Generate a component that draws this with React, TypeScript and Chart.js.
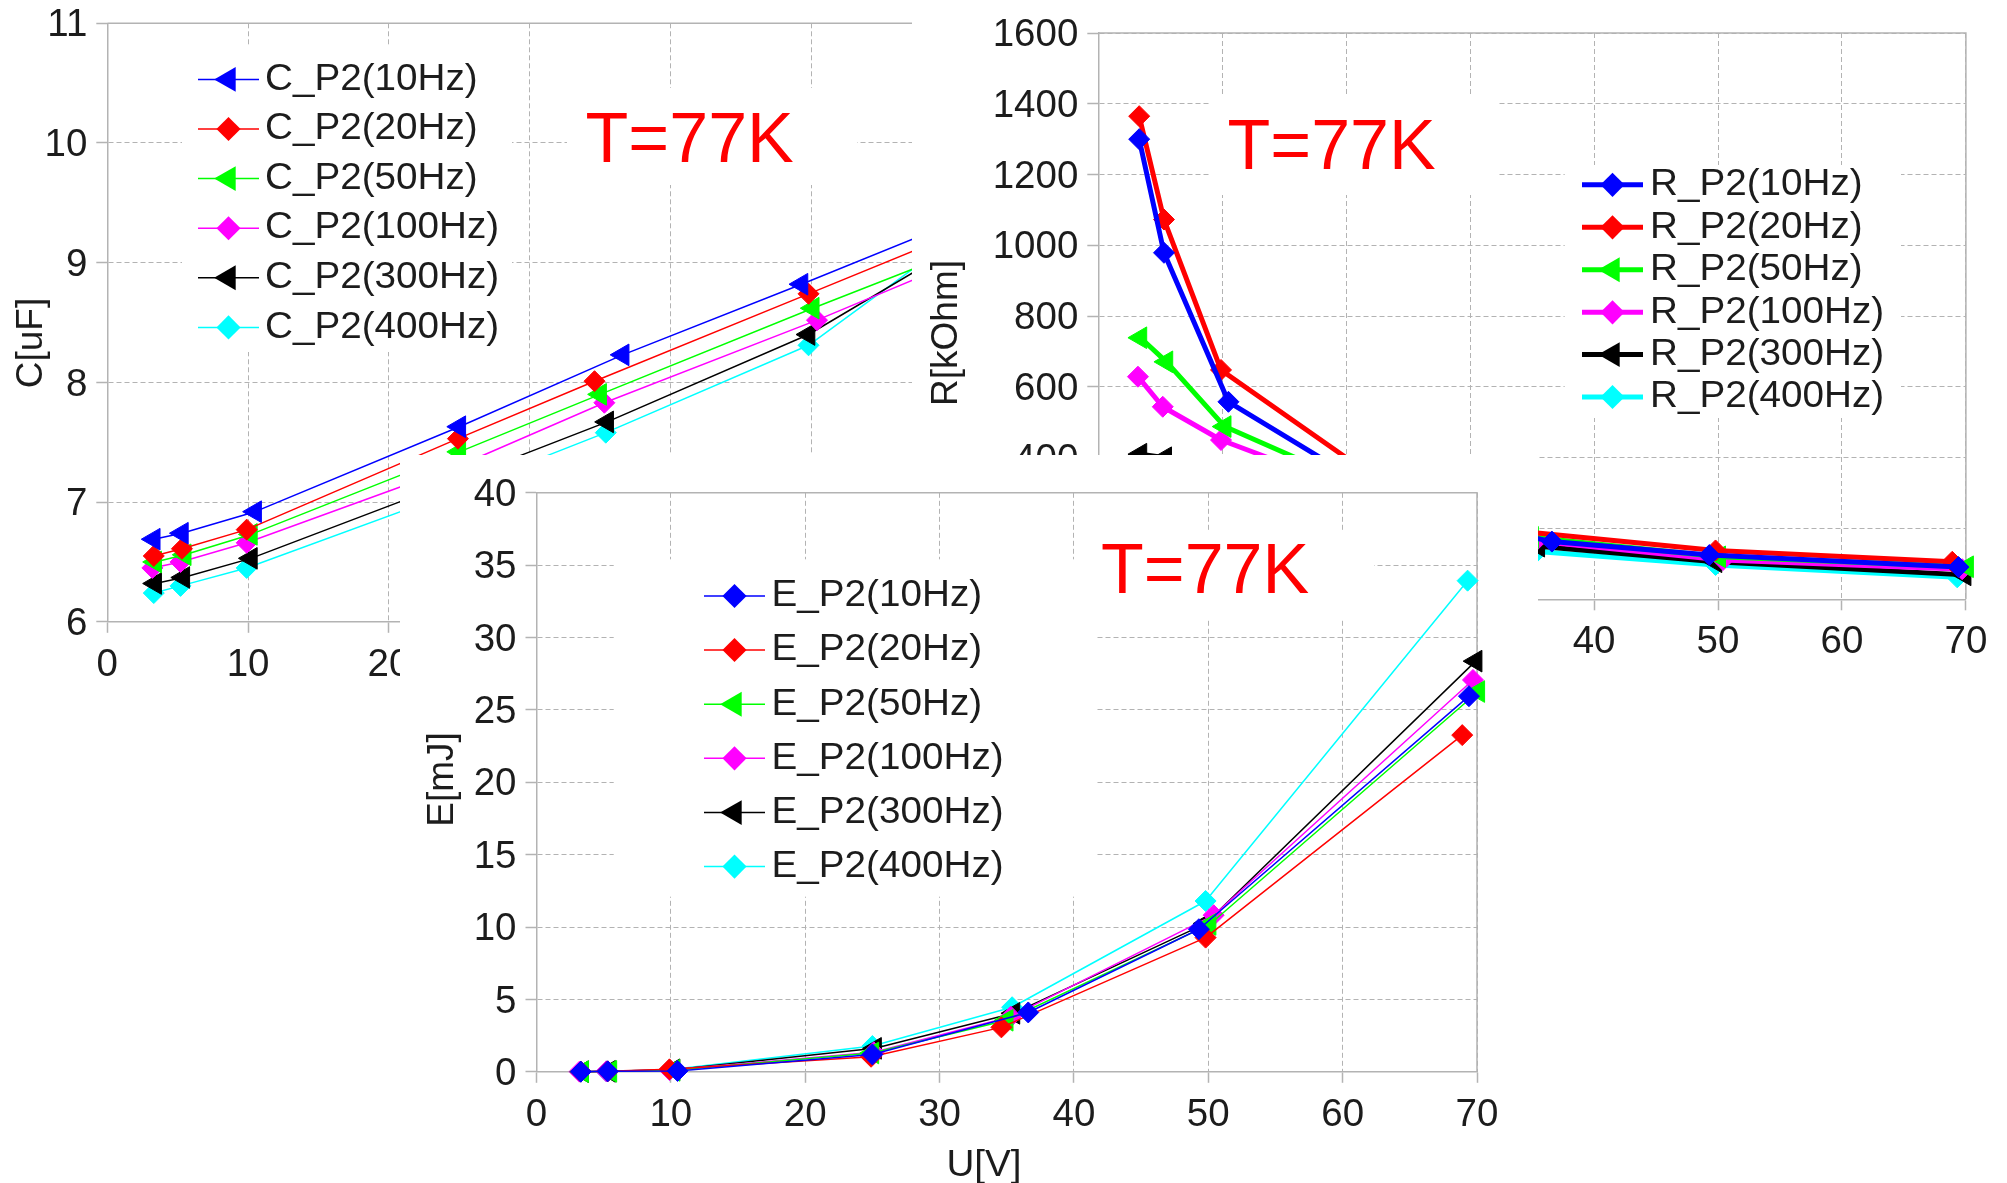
import React, { useEffect, useRef } from 'react';
import { Chart, registerables } from 'chart.js';

Chart.register(...registerables);

const FONT = '"Liberation Sans", Arial, Helvetica, sans-serif';
const GRID = '#b3b3b3';
const TEXT = '#1c1c1c';
const TITLE = 'T=77K';
const STRETCH = 1.045;
const LEGEND_MARKER_SCALE = 1.15;

const FREQS = ['10Hz', '20Hz', '50Hz', '100Hz', '300Hz', '400Hz'];
const COLORS = ['#0000ff', '#ff0000', '#00ff00', '#ff00ff', '#000000', '#00ffff'];

// Voltage U[V] of every measurement, per frequency
const U_10 = [3.3, 5.3, 10.5, 25.0, 36.6, 49.3, 69.4];
const U_20 = [3.3, 5.3, 9.9, 24.9, 34.6, 49.8, 68.9];
const U_50 = [3.4, 5.5, 10.2, 25.0, 35.0, 50.1, 70.1];
const U_100 = [3.2, 5.2, 9.9, 25.1, 35.3, 50.4, 69.7];
const U_300 = [3.4, 5.4, 10.2, 25.2, 35.5, 49.8, 69.9];
const U_400 = [3.3, 5.2, 9.9, 25.0, 35.4, 49.8, 69.3];

// Capacitance C[uF]
const C_10 = [6.69, 6.74, 6.92, 7.63, 8.23, 8.82, 9.78];
const C_20 = [6.55, 6.61, 6.77, 7.53, 8.01, 8.74, 9.66];
const C_50 = [6.5, 6.56, 6.73, 7.42, 7.9, 8.62, 9.54];
const C_100 = [6.45, 6.5, 6.66, 7.31, 7.83, 8.52, 9.47];
const C_300 = [6.32, 6.37, 6.53, 7.2, 7.67, 8.4, 9.8];
const C_400 = [6.24, 6.3, 6.45, 7.1, 7.58, 8.31, 9.99];

// Resistance R[kOhm]
const R_10 = [1300, 979, 558, 250, 163, 125, 91];
const R_20 = [1365, 1073, 648, 280, 190, 138, 106];
const R_50 = [739, 671, 488, 260, 175, 120, 92];
const R_100 = [629, 544, 450, 250, 165, 111, 85];
const R_300 = [410, 400, 330, 220, 150, 106, 69];
const R_400 = [385, 370, 300, 205, 135, 97, 62];

// Energy E[mJ]
const E_10 = [0.01, 0.03, 0.06, 1.2, 4.1, 9.85, 25.95];
const E_20 = [0.01, 0.03, 0.17, 1.04, 3.07, 9.27, 23.26];
const E_50 = [0.01, 0.03, 0.1, 1.3, 3.56, 10.18, 26.27];
const E_100 = [0.01, 0.03, 0.12, 1.35, 3.81, 10.82, 27.07];
const E_300 = [0.01, 0.03, 0.14, 1.62, 4.04, 10.24, 28.37];
const E_400 = [0.01, 0.03, 0.14, 1.78, 4.46, 11.8, 33.93];

// Tick labels
const U_TICKS = [0, 10, 20, 30, 40, 50, 60, 70];
const C_TICKS = [6, 7, 8, 9, 10, 11];
const R_TICKS = [0, 200, 400, 600, 800, 1000, 1200, 1400, 1600];
const E_TICKS = [0, 5, 10, 15, 20, 25, 30, 35, 40];

const C_MARKERS = ['triangle', 'rectRot', 'triangle', 'rectRot', 'triangle', 'rectRot'];
const RE_MARKERS = ['rectRot', 'rectRot', 'triangle', 'rectRot', 'triangle', 'rectRot'];

const U_SERIES = [U_10, U_20, U_50, U_100, U_300, U_400];
const C_SERIES = [C_10, C_20, C_50, C_100, C_300, C_400];
const R_SERIES = [R_10, R_20, R_50, R_100, R_300, R_400];
const E_SERIES = [E_10, E_20, E_50, E_100, E_300, E_400];

type Box = { x: number; y: number; w: number; h: number };
type Panel = {
  key: string;
  left: number; top: number; W: number; H: number;
  area: { l: number; r: number; t: number; b: number };
  yTicks: number[];
  prefix: string;
  markers: string[];
  ys: number[][];
  lineWidth: number;
  legendLineWidth: number;
  legendBox: Box;
  legendRows: number[];
  legendLine: [number, number];
  legendText: number;
  titleBox: Box;
  titleX: number;
  titleBase: number;
  yTitle: string; yTitleX: number; yTitleY: number;
  xTitle?: string; xTitleX?: number; xTitleBase?: number;
};

const PANELS: Panel[] = [
  {
    key: 'C', left: 0, top: 0, W: 1110, H: 700,
    area: { l: 107.3, r: 1093, t: 23.3, b: 621.8 },
    yTicks: C_TICKS, prefix: 'C', markers: C_MARKERS, ys: C_SERIES,
    lineWidth: 1.5, legendLineWidth: 1.5,
    legendBox: { x: 182, y: 45, w: 330, h: 307 },
    legendRows: [79.4, 129, 178.6, 228.2, 277.8, 327.4],
    legendLine: [198, 259], legendText: 265,
    titleBox: { x: 567, y: 88, w: 290, h: 97 }, titleX: 585.6, titleBase: 161.7,
    yTitle: 'C[uF]', yTitleX: 42.1, yTitleY: 343,
  },
  {
    key: 'R', left: 912, top: 0, W: 1095, H: 700,
    area: { l: 186.3, r: 1053.9, t: 33, b: 599.3 },
    yTicks: R_TICKS, prefix: 'R', markers: RE_MARKERS, ys: R_SERIES,
    lineWidth: 5, legendLineWidth: 5,
    legendBox: { x: 652.7, y: 165, w: 336.3, h: 253 },
    legendRows: [184.8, 227.3, 269.8, 312.3, 354.6, 397],
    legendLine: [670, 731], legendText: 738,
    titleBox: { x: 299, y: 95, w: 288, h: 100 }, titleX: 315.5, titleBase: 168.5,
    yTitle: 'R[kOhm]', yTitleX: 45.2, yTitleY: 333,
  },
  {
    key: 'E', left: 400, top: 455, W: 1138, H: 728,
    area: { l: 136.5, r: 1077, t: 37.8, b: 616.8 },
    yTicks: E_TICKS, prefix: 'E', markers: RE_MARKERS, ys: E_SERIES,
    lineWidth: 1.5, legendLineWidth: 1.5,
    legendBox: { x: 213.7, y: 104.3, w: 482.3, h: 337.4 },
    legendRows: [141, 195, 249.3, 303.3, 357.6, 411.6],
    legendLine: [304, 365], legendText: 371.5,
    titleBox: { x: 685, y: 75, w: 289, h: 88 }, titleX: 701, titleBase: 138.3,
    yTitle: 'E[mJ]', yTitleX: 52.9, yTitleY: 324.5,
    xTitle: 'U[V]', xTitleX: 584, xTitleBase: 721.3,
  },
];

function drawMarker(ctx: CanvasRenderingContext2D, style: string, x: number, y: number, r: number, color: string) {
  ctx.beginPath();
  if (style === 'triangle') {
    ctx.moveTo(x - r, y);
    ctx.lineTo(x + r / 2, y - r * 0.866);
    ctx.lineTo(x + r / 2, y + r * 0.866);
  } else {
    ctx.moveTo(x - r, y);
    ctx.lineTo(x, y - r);
    ctx.lineTo(x + r, y);
    ctx.lineTo(x, y + r);
  }
  ctx.closePath();
  ctx.fillStyle = color;
  ctx.fill();
}

function stretchedText(ctx: CanvasRenderingContext2D, text: string, x: number, y: number) {
  ctx.save();
  ctx.translate(x, y);
  ctx.scale(STRETCH, 1);
  ctx.fillText(text, 0, 0);
  ctx.restore();
}

function overlay(p: Panel) {
  return {
    id: 'overlay' + p.key,
    beforeDatasetsDraw(chart: any) {
      const { ctx, chartArea: a } = chart;
      ctx.save();
      ctx.setLineDash([]);
      ctx.strokeStyle = GRID;
      ctx.lineWidth = 1.5;
      ctx.beginPath();
      ctx.moveTo(a.left, a.top);
      ctx.lineTo(a.right, a.top);
      ctx.lineTo(a.right, a.bottom);
      ctx.stroke();
      ctx.restore();
    },
    afterDatasetsDraw(chart: any) {
      const ctx: CanvasRenderingContext2D = chart.ctx;
      ctx.save();
      ctx.setLineDash([]);
      ctx.fillStyle = '#ffffff';
      const lb = p.legendBox;
      ctx.fillRect(lb.x, lb.y, lb.w, lb.h);
      const tb = p.titleBox;
      ctx.fillRect(tb.x, tb.y, tb.w, tb.h);

      chart.data.datasets.forEach((ds: any, i: number) => {
        const y = p.legendRows[i];
        ctx.strokeStyle = ds.borderColor;
        ctx.lineWidth = p.legendLineWidth;
        ctx.beginPath();
        ctx.moveTo(p.legendLine[0], y);
        ctx.lineTo(p.legendLine[1], y);
        ctx.stroke();
        drawMarker(
          ctx,
          ds.pointStyle,
          (p.legendLine[0] + p.legendLine[1]) / 2,
          y,
          ds.pointRadius * LEGEND_MARKER_SCALE,
          ds.pointBackgroundColor,
        );
        ctx.fillStyle = TEXT;
        ctx.font = `37px ${FONT}`;
        ctx.textAlign = 'left';
        ctx.textBaseline = 'middle';
        stretchedText(ctx, ds.label, p.legendText, y);
      });

      ctx.fillStyle = '#ff0000';
      ctx.font = `70px ${FONT}`;
      ctx.textAlign = 'left';
      ctx.textBaseline = 'alphabetic';
      ctx.fillText(TITLE, p.titleX, p.titleBase);

      ctx.fillStyle = TEXT;
      ctx.font = `37px ${FONT}`;
      ctx.textAlign = 'center';
      ctx.textBaseline = 'alphabetic';
      ctx.save();
      ctx.translate(p.yTitleX, p.yTitleY);
      ctx.rotate(-Math.PI / 2);
      ctx.fillText(p.yTitle, 0, 0);
      ctx.restore();
      if (p.xTitle) {
        stretchedText(ctx, p.xTitle, p.xTitleX as number, p.xTitleBase as number);
      }
      ctx.restore();
    },
  };
}

function buildConfig(p: Panel): any {
  const datasets = p.ys.map((ys, i) => {
    const marker = p.markers[i];
    return {
      label: `${p.prefix}_P2(${FREQS[i]})`,
      data: U_SERIES[i].map((x, j) => ({ x, y: ys[j] })),
      showLine: true,
      borderColor: COLORS[i],
      backgroundColor: COLORS[i],
      borderWidth: p.lineWidth,
      borderJoinStyle: 'round',
      pointStyle: marker,
      pointRotation: marker === 'triangle' ? -90 : 0,
      pointRadius: marker === 'triangle' ? 12.5 : 10.5,
      pointBorderWidth: 1,
      pointBackgroundColor: COLORS[i],
      pointBorderColor: COLORS[i],
      tension: 0,
      clip: false,
    };
  });
  const tickFont = { family: FONT, size: 38.5, lineHeight: 1.2 };
  const grid = { color: GRID, lineWidth: 1, tickLength: 11, tickColor: GRID, tickWidth: 1.5, tickBorderDash: [] };
  const border = { display: true, color: GRID, width: 1.5, dash: [5, 3] };
  return {
    type: 'scatter',
    data: { datasets },
    options: {
      animation: false,
      responsive: false,
      maintainAspectRatio: false,
      devicePixelRatio: 1,
      events: [],
      layout: { padding: { left: 0, top: p.area.t, right: p.W - p.area.r, bottom: 0 } },
      plugins: { legend: { display: false }, tooltip: { enabled: false }, title: { display: false } },
      scales: {
        x: {
          type: 'linear',
          position: 'bottom',
          min: U_TICKS[0],
          max: U_TICKS[U_TICKS.length - 1],
          ticks: {
            stepSize: U_TICKS[1] - U_TICKS[0],
            font: tickFont,
            color: TEXT,
            padding: 9,
            maxRotation: 0,
            autoSkip: false,
            callback: (v: any) => String(v),
          },
          grid,
          border,
          afterFit: (s: any) => {
            s.height = p.H - p.area.b;
            s.paddingLeft = 0;
            s.paddingRight = 0;
          },
        },
        y: {
          type: 'linear',
          position: 'left',
          min: p.yTicks[0],
          max: p.yTicks[p.yTicks.length - 1],
          ticks: {
            stepSize: p.yTicks[1] - p.yTicks[0],
            font: tickFont,
            color: TEXT,
            padding: 9,
            labelOffset: 2.5,
            autoSkip: false,
            callback: (v: any) => String(v),
          },
          grid,
          border,
          afterFit: (s: any) => {
            s.width = p.area.l;
            s.paddingTop = 0;
            s.paddingBottom = 0;
          },
        },
      },
    },
    plugins: [overlay(p)],
  };
}

function ChartPanel({ panel }: { panel: Panel }) {
  const ref = useRef<HTMLCanvasElement>(null);
  useEffect(() => {
    if (!ref.current) return;
    const chart = new Chart(ref.current, buildConfig(panel));
    return () => chart.destroy();
  }, [panel]);
  return (
    <canvas
      ref={ref}
      width={panel.W}
      height={panel.H}
      style={{
        position: 'absolute',
        left: panel.left,
        top: panel.top,
        width: panel.W,
        height: panel.H,
        background: '#ffffff',
        display: 'block',
      }}
    />
  );
}

export default function App() {
  return (
    <div
      style={{
        position: 'fixed',
        left: 0,
        top: 0,
        width: 2007,
        height: 1183,
        background: '#ffffff',
        overflow: 'hidden',
      }}
    >
      {PANELS.map((p) => (
        <ChartPanel key={p.key} panel={p} />
      ))}
    </div>
  );
}
